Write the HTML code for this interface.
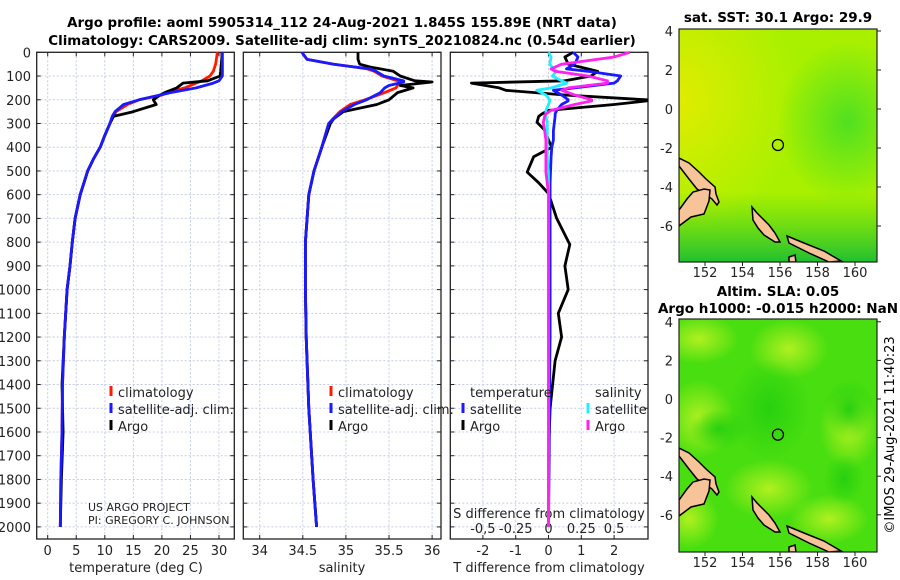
<!DOCTYPE html>
<html><head><meta charset="utf-8">
<style>
html,body{margin:0;padding:0;background:#fff;}
svg{display:block;font-family:"DejaVu Sans","Liberation Sans",sans-serif;}
</style></head>
<body>
<svg id="fig" width="900" height="580" viewBox="0 0 900 580" xmlns="http://www.w3.org/2000/svg">
<defs>
<radialGradient id="g1a" cx="0" cy="0.3" r="0.6"><stop offset="0" stop-color="#e0ec00"/><stop offset="1" stop-color="#e0ec00" stop-opacity="0"/></radialGradient>
<radialGradient id="g1b" cx="0.85" cy="0.4" r="0.35"><stop offset="0" stop-color="#50e020"/><stop offset="1" stop-color="#50e020" stop-opacity="0"/></radialGradient>
<linearGradient id="g1c" x1="0" y1="0" x2="0" y2="1"><stop offset="0.7" stop-color="#40d020" stop-opacity="0"/><stop offset="1" stop-color="#20c030"/></linearGradient>
<radialGradient id="g2a" cx="0.5" cy="0.5" r="0.5"><stop offset="0" stop-color="#b0f020"/><stop offset="1" stop-color="#b0f020" stop-opacity="0"/></radialGradient>
<radialGradient id="g2b" cx="0.5" cy="0.5" r="0.5"><stop offset="0" stop-color="#28d010"/><stop offset="1" stop-color="#28d010" stop-opacity="0"/></radialGradient>
<clipPath id="clip-sst"><rect x="679" y="29" width="198" height="233"/></clipPath>
<clipPath id="clip-sla"><rect x="679" y="319" width="198" height="233"/></clipPath>
</defs>
<text x="342" y="27" text-anchor="middle" font-size="13.4" font-weight="bold">Argo profile: aoml 5905314_112 24-Aug-2021 1.845S 155.89E (NRT data)</text>
<text x="342" y="45" text-anchor="middle" font-size="13.4" font-weight="bold">Climatology: CARS2009. Satellite-adj clim: synTS_20210824.nc (0.54d earlier)</text>
<g id="panels"></g>
<g id="maps"></g>
<text transform="translate(894,435) rotate(-90)" text-anchor="middle" font-size="13">©IMOS 29-Aug-2021 11:40:23</text>
</svg>
<script>
// ---- data ----
const depthT = [0,20,50,80,100,120,130,150,170,180,200,220,250,270,300,350,400,450,500,600,700,800,900,1000,1200,1400,1600,1800,2000];
const tempArgo = [30.5,30.5,30.4,30.3,30.2,28,23.7,22.6,20.5,19.7,18.5,19,15,11.5,10.9,10,9.2,8,7,5.7,4.8,4.3,3.9,3.4,2.9,2.5,2.7,2.4,2.2];
const tempClim = [29.7,29.6,29.4,29,28.4,27,26,24,21,20,16,14,12,11.5,10.9,10,9.2,8,7,5.7,4.8,4.3,3.9,3.4,2.9,2.6,2.5,2.3,2.2];
const tempSat = [30.6,30.6,30.6,30.6,30.6,30,29,26,21.5,19.7,16,13.3,11.8,11.3,10.9,10,9.2,8,7,5.7,4.8,4.3,3.9,3.4,2.9,2.6,2.5,2.3,2.2];
const depthS = [0,30,50,62,70,80,100,120,125,140,150,170,200,220,250,280,300,400,500,600,800,1000,1200,1500,1800,2000];
const salArgo = [35.14,35.14,35.16,35.28,35.4,35.55,35.63,35.8,36.0,35.63,35.78,35.6,35.5,35.36,34.97,34.86,34.82,34.72,34.63,34.57,34.53,34.53,34.54,34.57,34.62,34.66];
const salClim = [34.49,34.55,34.86,35.1,35.25,35.33,35.42,35.6,35.62,35.6,35.58,35.45,35.22,35.05,34.93,34.85,34.8,34.72,34.63,34.57,34.53,34.53,34.54,34.57,34.62,34.66];
const salSat = [34.49,34.55,34.86,35.1,35.28,35.35,35.44,35.67,35.67,35.5,35.45,35.4,35.24,35.1,34.95,34.86,34.8,34.72,34.63,34.57,34.53,34.53,34.54,34.57,34.62,34.66];
const depthD = [0,20,50,70,80,100,120,130,150,160,180,200,205,220,245,260,270,295,330,370,400,440,505,550,595,700,810,900,1000,1100,1200,1300,1500,1700,2000];
const tDiffArgo = [0.75,0.5,0.6,1.2,1.5,1.3,0.5,-2.35,-1.5,-1.3,0.5,3,3,2,0,-0.2,-0.3,-0.35,-0.1,0,0.1,-0.45,-0.65,-0.3,0,0.25,0.65,0.5,0.6,0.3,0.4,0.2,0.05,0,0];
const tDiffSat = [0.75,0.9,0.8,0.55,1.2,2.2,2.1,2,0.8,0.15,0.4,0.6,0.6,0.4,0.25,0.2,0.2,0.18,0.15,0.15,0.1,0.08,0.06,0.05,0.05,0.05,0.05,0.05,0.05,0.05,0.05,0.04,0.03,0.02,0];
const sDiffSat = [0,0.02,0.01,0.04,0.06,0.03,0.1,0.14,0.02,-0.09,-0.02,0.01,0.01,0,-0.02,-0.02,-0.02,-0.01,-0.01,-0.01,-0.01,-0.01,0,0,0,0,0,0,0,0,0,0,0,0,0];
const sDiffArgo = [0.62,0.5,0.1,0.02,0.05,0.3,0.45,0.45,0.15,0.1,0.2,0.33,0.33,0.2,0.02,-0.02,-0.03,-0.04,-0.03,-0.02,-0.02,-0.02,-0.02,-0.01,0,0,0,0,0,0,0,0,0,0,0];
const depthTicks = [0,100,200,300,400,500,600,700,800,900,1000,1100,1200,1300,1400,1500,1600,1700,1800,1900,2000];
const tTicks = [0,5,10,15,20,25,30];
const sTicks = [34,34.5,35,35.5,36];
const sTickLabels = ["34","34.5","35","35.5","36"];
const dTTicks = [-2,-1,0,1,2];
const dSTicks = [-0.5,-0.25,0,0.25,0.5];
const dSTickLabels = ["-0,5","-0.25","0","0.25","0.5"];
const latTicks = [4,2,0,-2,-4,-6];
const lonTicks = [152,154,156,158,160];

// ---- axes ----
const NS = "http://www.w3.org/2000/svg";
const yD = d => 52.3 + d*0.2373;
const xT = t => 47.7 + t*5.71;
const xS = s => 259.7 + (s-34)*86.2;
const xDT = v => 548.5 + v*32.8;
const xDS = s => 548.5 + s*131.2;
function mk(tag, attrs, parent){const e=document.createElementNS(NS,tag);for(const k in attrs)e.setAttribute(k,attrs[k]);parent.appendChild(e);return e;}
const P = document.getElementById('panels');
const panels = [{x0:36.7,x1:234.3,name:'temperature'},{x0:243.3,x1:441,name:'salinity'},{x0:450.3,x1:648,name:'difference'}];
const vgrid = [tTicks.map(xT), sTicks.map(xS), dTTicks.map(xDT)];
const yTop=52.3, yBot=539;
panels.forEach((p,i)=>{
  const g = mk('g',{},P);
  
  
  depthTicks.forEach(d=>{
    const l=mk('line',{x1:p.x0,x2:p.x1,y1:yD(d),y2:yD(d),stroke:'#c4cbe6','stroke-width':1,'stroke-dasharray':'2,2'},g);
    
    
    mk('line',{x1:p.x0,x2:p.x0+4,y1:yD(d),y2:yD(d),stroke:'#222'},g);
    mk('line',{x1:p.x1-4,x2:p.x1,y1:yD(d),y2:yD(d),stroke:'#222'},g);
  });
  vgrid[i].forEach(x=>{
    const l=mk('line',{x1:x,x2:x,y1:yTop,y2:yBot,stroke:'#c4cbe6','stroke-width':1,'stroke-dasharray':'2,2'},g);
    
    
    mk('line',{x1:x,x2:x,y1:yBot-4,y2:yBot,stroke:'#222'},g);
    mk('line',{x1:x,x2:x,y1:yTop,y2:yTop+4,stroke:'#222'},g);
  });
  const fr=mk('rect',{x:p.x0,y:yTop,width:p.x1-p.x0,height:yBot-yTop,fill:'none',stroke:'#222','stroke-width':1.3},g);
  
  
});
depthTicks.forEach(d=>{
  const t=mk('text',{x:31,y:yD(d)+5,'text-anchor':'end','font-size':13,fill:'#222'},P);
  t.textContent=d;
  
  
});
function tickLabels(vals, labels, fx, y){
  vals.forEach((v,i)=>{
    const t=mk('text',{x:fx(v),y:y,'text-anchor':'middle','font-size':13,fill:'#222'},P);
    t.textContent=labels[i];
    
    
  });
}
tickLabels(tTicks, tTicks.map(String), xT, 555);
tickLabels(sTicks, sTickLabels, xS, 555);
tickLabels(dTTicks, dTTicks.map(String), xDT, 555);
tickLabels(dSTicks, dSTickLabels, xDS, 533);
function label(txt,x,y,name,anchor,size){
  const t=mk('text',{x:x,y:y,'text-anchor':anchor||'middle','font-size':size||13,fill:'#222'},P);
  t.textContent=txt;
  
  
  return t;
}
label('temperature (deg C)',136,572,'x-axis-title-temperature');
label('salinity',342,572,'x-axis-title-salinity');
label('T difference from climatology',549,572,'x-axis-title-t-difference');
label('S difference from climatology',549,518,'s-axis-title');
label('US ARGO PROJECT',88,511,'project-credit','start',11);
label('PI: GREGORY C. JOHNSON',88,524,'pi-credit','start',11);

function series(depths, vals, fx, color, name){
  const pts = depths.map((d,i)=>fx(vals[i]).toFixed(1)+','+yD(d).toFixed(1)).join(' ');
  const pl = mk('polyline',{points:pts,fill:'none',stroke:color,'stroke-width':2.8,'stroke-linejoin':'round'},P);
  
  
}
series(depthT,tempClim,xT,'#ff1a00','temperature-climatology-line');
series(depthT,tempArgo,xT,'#000','temperature-argo-line');
series(depthT,tempSat,xT,'#1a1aff','temperature-satellite-line');
series(depthS,salClim,xS,'#ff1a00','salinity-climatology-line');
series(depthS,salArgo,xS,'#000','salinity-argo-line');
series(depthS,salSat,xS,'#1a1aff','salinity-satellite-line');
series(depthD,tDiffArgo,xDT,'#000','t-diff-argo-line');
series(depthD,tDiffSat,xDT,'#1a1aff','t-diff-satellite-line');
series(depthD,sDiffSat,xDS,'#22eeff','s-diff-satellite-line');
series(depthD,sDiffArgo,xDS,'#ff22ee','s-diff-argo-line');

function legend(x, y, color, txt){
  const g=mk('g',{},P);
  
  
  mk('rect',{x:x-1.5,y:y-11,width:3,height:10,fill:color},g);
  const t=mk('text',{x:x+7,y:y,'font-size':13,fill:'#222'},g);
  t.textContent=txt;
}
legend(111,397,'#ff1a00','climatology');legend(111,414,'#1a1aff','satellite-adj. clim.');legend(111,431,'#000','Argo');
legend(331,397,'#ff1a00','climatology');legend(331,414,'#1a1aff','satellite-adj. clim.');legend(331,431,'#000','Argo');
label('temperature',470,397,'legend-temperature-header','start');
legend(463,414,'#1a1aff','satellite');legend(463,431,'#000','Argo');
label('salinity',595,397,'legend-salinity-header','start');
legend(588,414,'#22eeff','satellite');legend(588,431,'#ff22ee','Argo');

// ---- maps ----
const M = document.getElementById('maps');
const lonX = lon => 705 + (lon-152)*18.75;
const land = [
 [[0,129],[10,134],[20,143],[27,150],[36,158],[37,165],[40,173],[38,176],[33,170],[26,165],[18,160],[10,150],[0,137]],
 [[0,181],[8,170],[14,163],[25,160],[31,161],[30,172],[25,185],[12,188],[0,197]],
 [[73,178],[78,184],[90,196],[96,204],[101,213],[96,213],[85,206],[79,199],[74,191]],
 [[108,207],[125,214],[145,222],[162,232],[150,233],[130,224],[110,214]],
 [[110,228],[116,226],[117,233],[110,233]]
];
function drawMap(oy, latY, kind, titleLines){
  const g=mk('g',{},M);
  
  
  const W=198,H=233,x0=679;
  const cg=mk('g',{'clip-path':'url(#clip-'+kind+')'},g);
  if(kind==='sst'){
    mk('rect',{x:x0,y:oy,width:W,height:H,fill:'#a8f000'},cg);
    mk('rect',{x:x0,y:oy,width:W,height:H,fill:'url(#g1a)'},cg);
    mk('rect',{x:x0,y:oy,width:W,height:H,fill:'url(#g1b)'},cg);
    mk('rect',{x:x0,y:oy,width:W,height:H,fill:'url(#g1c)'},cg);
  } else {
    mk('rect',{x:x0,y:oy,width:W,height:H,fill:'#48de10'},cg);
    [[20,20,40,25],[110,30,40,30],[20,100,35,40],[90,170,45,30],[150,200,40,25],[10,200,30,30],[170,110,30,40]].forEach(b=>mk('ellipse',{cx:x0+b[0],cy:oy+b[1],rx:b[2],ry:b[3],fill:'url(#g2a)'},cg));
    [[90,90,40,50],[170,90,25,30],[40,110,30,20],[165,160,20,25]].forEach(b=>mk('ellipse',{cx:x0+b[0],cy:oy+b[1],rx:b[2],ry:b[3],fill:'url(#g2b)'},cg));
  }
  land.forEach(poly=>{
    const p=mk('polygon',{points:poly.map(q=>(x0+q[0])+','+(oy+q[1])).join(' '),fill:'#f7c49a',stroke:'#000','stroke-width':1.5},cg);
    
    
  });
  const c=mk('circle',{cx:lonX(155.89),cy:latY(-1.845),r:5.5,fill:'none',stroke:'#000','stroke-width':1.3},g);
  
  
  mk('rect',{x:x0,y:oy,width:W,height:H,fill:'none',stroke:'#222','stroke-width':1.2},g);
  latTicks.forEach(l=>{
    const t=mk('text',{x:673,y:latY(l)+5,'text-anchor':'end','font-size':13,fill:'#222'},g);
    t.textContent=l;
    
    
    mk('line',{x1:x0+W,x2:x0+W+4,y1:latY(l),y2:latY(l),stroke:'#222'},g);
  });
  lonTicks.forEach(l=>{
    const t=mk('text',{x:lonX(l),y:oy+H+15,'text-anchor':'middle','font-size':13,fill:'#222'},g);
    t.textContent=l;
    
    
    mk('line',{x1:lonX(l),x2:lonX(l),y1:oy+H,y2:oy+H+4,stroke:'#222'},g);
  });
  titleLines.forEach((tl,i)=>{
    const t=mk('text',{x:778,y:tl[1],'text-anchor':'middle','font-size':13.5,'font-weight':'bold',fill:'#000'},g);
    t.textContent=tl[0];
    
    
  });
}
drawMap(29, l=>109-l*19.5, 'sst', [['sat. SST: 30.1 Argo: 29.9',22]]);
drawMap(319, l=>399-l*19.3, 'sla', [['Altim. SLA: 0.05',296],['Argo h1000: -0.015 h2000: NaN',313]]);
</script>
</body></html>
